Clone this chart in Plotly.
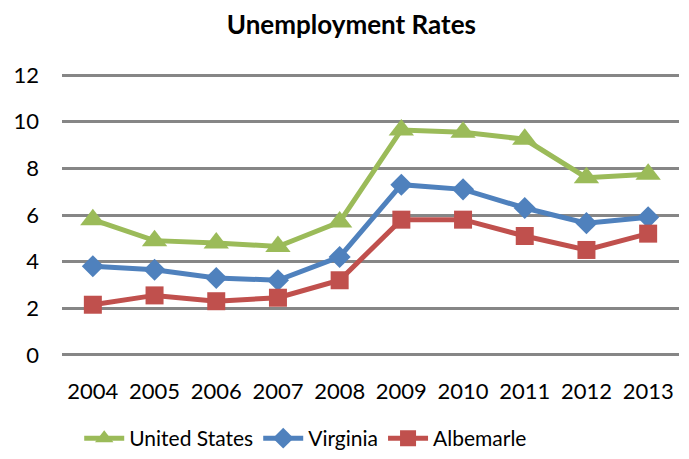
import plotly.graph_objects as go

years = ["2004", "2005", "2006", "2007", "2008", "2009", "2010", "2011", "2012", "2013"]
us = [5.8, 4.9, 4.8, 4.65, 5.7, 9.65, 9.55, 9.25, 7.6, 7.75]
virginia = [3.8, 3.65, 3.3, 3.2, 4.2, 7.3, 7.1, 6.3, 5.65, 5.9]
albemarle = [2.15, 2.55, 2.3, 2.45, 3.2, 5.8, 5.8, 5.1, 4.5, 5.2]
y_ticks = [0, 2, 4, 6, 8, 10, 12]

FONT = "Lato, Open Sans, sans-serif"

fig = go.Figure()
series = [
    ("United States", us, "#9BBB59", "triangle-up", 22),
    ("Virginia", virginia, "#4F81BD", "diamond", 17),
    ("Albemarle", albemarle, "#C0504D", "square", 18),
]
for name, vals, col, sym, sz in series:
    fig.add_trace(go.Scatter(
        x=years, y=vals, name=name, mode="lines+markers",
        line=dict(color=col, width=5),
        marker=dict(symbol=sym, size=sz, color=col, line=dict(width=0)),
    ))

fig.update_layout(
    width=689, height=459,
    margin=dict(l=62, r=10, t=74, b=103),
    paper_bgcolor="white", plot_bgcolor="white",
    title=dict(text="<b>Unemployment Rates</b>", x=0.51, xanchor="center",
               y=0.946, yanchor="middle",
               font=dict(family=FONT, size=26, color="black")),
    font=dict(family=FONT, color="black"),
    showlegend=True,
    legend=dict(orientation="h", x=0.395, xanchor="center",
                yref="container", y=0.0, yanchor="bottom",
                font=dict(family=FONT, size=21, color="black"),
                itemwidth=40, tracegroupgap=0),
)
fig.update_xaxes(type="category", range=[-0.5, 9.5], showgrid=False, showline=False,
                 zeroline=False, ticks="", tickfont=dict(family=FONT, size=22, color="black"),
                 ticklabelstandoff=20)
fig.update_yaxes(range=[-0.05, 12.05], tickvals=y_ticks, showgrid=True, gridcolor="#868686",
                 gridwidth=3, zeroline=False, showline=False, ticks="",
                 tickfont=dict(family=FONT, size=22, color="black"),
                 ticklabelstandoff=22)

fig.write_html("out.html", config={"displayModeBar": False},
               post_script="document.body.style.margin='0';")
